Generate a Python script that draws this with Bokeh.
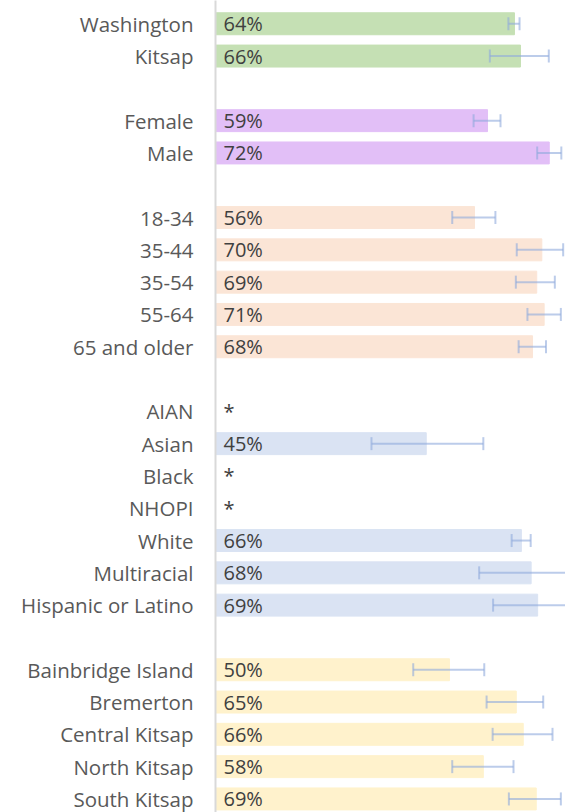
from bokeh.plotting import figure
from bokeh.models import Range1d, FixedTicker, ColumnDataSource, Whisker, TeeHead
from bokeh.core.properties import value
from bokeh.embed import file_html
from bokeh.resources import INLINE

# ---- data ----
group_colors = ["#C5E0B4", "#E2BFF7", "#FBE5D6", "#DAE3F3", "#FFF2CC"]
group_sizes = [2, 2, 5, 7, 5]
categories = ["Washington", "Kitsap",
              "Female", "Male",
              "18-34", "35-44", "35-54", "55-64", "65 and older",
              "AIAN", "Asian", "Black", "NHOPI", "White", "Multiracial", "Hispanic or Latino",
              "Bainbridge Island", "Bremerton", "Central Kitsap", "North Kitsap", "South Kitsap"]
values = [64.4, 65.7,
          58.6, 71.9,
          55.8, 70.3, 69.2, 70.8, 68.3,
          None, 45.4, None, None, 65.9, 68.0, 69.4,
          50.4, 64.8, 66.3, 57.7, 69.1]
lower = [63.1, 59.1,
         55.6, 69.3,
         51.0, 64.9, 64.7, 67.2, 65.3,
         None, 33.6, None, None, 63.8, 56.8, 59.8,
         42.6, 58.4, 59.7, 51.0, 63.2]
upper = [65.5, 71.8,
         61.4, 74.5,
         60.3, 74.9, 73.1, 74.4, 71.2,
         None, 57.7, None, None, 67.9, 79.0, 79.0,
         57.9, 70.6, 72.6, 64.2, 74.4]
value_labels = ["64%", "66%",
                "59%", "72%",
                "56%", "70%", "69%", "71%", "68%",
                "*", "45%", "*", "*", "66%", "68%", "69%",
                "50%", "65%", "66%", "58%", "69%"]

# ---- row positions (one blank row between groups) ----
ypos, colors = [], []
row = 0
for gi, n in enumerate(group_sizes):
    for _ in range(n):
        ypos.append(row)
        colors.append(group_colors[gi])
        row += 1
    row += 1

bar_idx = [i for i, v in enumerate(values) if v is not None]
bars = ColumnDataSource(dict(
    y=[ypos[i] for i in bar_idx],
    right=[values[i] for i in bar_idx],
    lo=[lower[i] for i in bar_idx],
    hi=[upper[i] for i in bar_idx],
    color=[colors[i] for i in bar_idx],
))
labels = ColumnDataSource(dict(y=ypos, x=[0] * len(ypos), text=value_labels))

p = figure(width=565, height=812, output_backend="svg", toolbar_location=None,
           x_range=Range1d(0, 75.4), y_range=Range1d(24.42, -0.72),
           min_border_left=215, min_border_right=0, min_border_top=0, min_border_bottom=0)

p.hbar(y="y", left=0, right="right", height=0.68, color="color", source=bars)

err_color = "#8FAADC"
w = Whisker(base="y", lower="lo", upper="hi", dimension="width", source=bars,
            line_color=err_color, line_width=2, line_alpha=0.6,
            lower_head=TeeHead(size=13, line_color=err_color, line_width=2, line_alpha=0.6),
            upper_head=TeeHead(size=13, line_color=err_color, line_width=2, line_alpha=0.6))
w.level = "annotation"
p.add_layout(w)

p.text(x="x", y="y", text="text", source=labels, x_offset=8,
       text_font=value("Open Sans"), text_font_size="20px", text_color="#404040",
       text_align="left", text_baseline="middle")

p.xaxis.visible = False
p.xgrid.visible = False
p.ygrid.visible = False
p.outline_line_color = None

yax = p.yaxis[0]
yax.ticker = FixedTicker(ticks=ypos)
yax.major_label_overrides = {y: c for y, c in zip(ypos, categories)}
yax.major_label_text_font = "Open Sans"
yax.major_label_text_font_size = "20.5px"
yax.major_label_text_color = "#595959"
yax.major_label_standoff = 16
yax.major_tick_line_color = None
yax.minor_tick_line_color = None
yax.axis_line_color = "#D9D9D9"
yax.axis_line_width = 2

open("out.html", "w").write(file_html(p, INLINE))
